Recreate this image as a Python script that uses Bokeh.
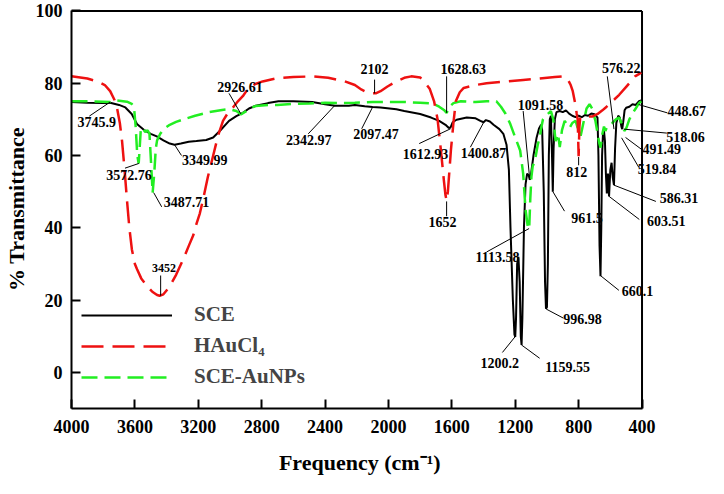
from bokeh.plotting import figure
from bokeh.models import Range1d, FixedTicker, Legend, LegendItem, ColumnDataSource
from bokeh.embed import file_html
from bokeh.resources import INLINE
from bokeh.core.properties import value

FONT = "Liberation Serif"

# ---------------- data ----------------
sce_wn = [4000, 3900, 3800, 3756, 3700, 3660, 3620, 3587, 3540, 3500, 3462, 3420, 3380, 3350,
          3310, 3260, 3212, 3150, 3106, 3060, 3006, 2960, 2919, 2880, 2837, 2760, 2694, 2600,
          2481, 2400, 2337, 2250, 2212, 2150, 2100, 2050, 1950, 1900, 1800, 1731, 1680, 1640,
          1619, 1608, 1595, 1570, 1506, 1450, 1420, 1400, 1385, 1360, 1337, 1300, 1275, 1255,
          1240, 1230, 1215, 1205, 1200, 1195, 1188, 1180, 1172, 1165, 1160, 1155, 1145, 1135,
          1125, 1115, 1108, 1100, 1085, 1065, 1050, 1037, 1030, 1020, 1012, 1006, 1000, 994,
          988, 982, 975, 968, 963, 958, 950, 940, 920, 900, 880, 860, 840, 820, 800, 780, 760,
          740, 720, 700, 690, 681, 675, 668, 662, 657, 652, 646, 640, 634, 628, 622, 615, 608,
          600, 592, 585, 577, 570, 562, 550, 540, 530, 525, 518, 510, 500, 480, 460, 440, 420, 405]
sce_t = [74.8, 74.6, 74.5, 74.6, 74.0, 73.3, 71.5, 68.7, 67.0, 66.0, 65.3, 64.2, 63.3, 63.0,
         63.3, 63.8, 64.0, 64.3, 65.0, 67.0, 69.6, 70.9, 71.8, 73.0, 73.8, 74.5, 75.0, 75.0,
         74.8, 74.2, 73.8, 73.8, 74.0, 73.6, 73.4, 73.3, 72.8, 72.3, 71.5, 70.5, 69.6, 68.5,
         67.6, 67.8, 69.2, 69.9, 70.5, 70.3, 69.6, 69.2, 69.8, 69.4, 68.5, 67.3, 66.0, 63.0,
         56.0, 40.0, 20.0, 10.5, 9.8, 15.0, 30.0, 32.0, 25.0, 10.0, 7.6, 15.0, 40.0, 52.0,
         55.0, 54.5, 53.3, 55.0, 60.0, 65.0, 67.5, 68.5, 67.0, 50.0, 25.0, 17.6, 18.0, 30.0,
         60.0, 70.0, 71.0, 60.0, 50.0, 62.0, 70.0, 72.0, 72.3, 72.0, 72.5, 71.6, 71.0, 70.6,
         71.0, 70.6, 71.2, 71.0, 71.6, 71.4, 71.0, 70.5, 60.0, 35.0, 26.6, 40.0, 60.0, 66.5,
         66.8, 64.0, 55.0, 49.5, 55.0, 48.7, 56.0, 58.0, 54.0, 51.8, 62.0, 69.0, 71.0, 70.5,
         68.0, 67.3, 69.5, 72.5, 73.2, 73.5, 74.2, 74.0, 75.0, 75.2]

hau_wn = [4000, 3900, 3837, 3790, 3756, 3730, 3712, 3695, 3681, 3665, 3650, 3635, 3619, 3600,
          3587, 3560, 3525, 3490, 3460, 3444, 3420, 3381, 3340, 3294, 3260, 3231, 3212, 3190,
          3169, 3140, 3106, 3075, 3044, 3010, 2981, 2950, 2919, 2900, 2881, 2840, 2794, 2700,
          2600, 2481, 2380, 2275, 2212, 2169, 2130, 2106, 2080, 2050, 2006, 1950, 1900, 1856,
          1800, 1775, 1740, 1712, 1690, 1669, 1650, 1640, 1633, 1625, 1615, 1606, 1590, 1575,
          1550, 1525, 1450, 1381, 1250, 1150, 1069, 950, 900, 870, 850, 837, 820, 812, 806,
          800, 795, 790, 775, 750, 712, 680, 650, 631, 600, 575, 544, 500, 470, 444, 420, 405]
hau_t = [81.9, 81.3, 80.5, 79.5, 77.8, 75.5, 73.0, 69.0, 64.0, 56.0, 47.7, 40.0, 34.0, 30.0,
         28.6, 26.0, 24.0, 22.3, 21.4, 21.2, 21.6, 23.7, 27.0, 31.4, 35.0, 38.0, 41.0, 44.0,
         48.0, 54.0, 60.0, 65.5, 69.6, 72.0, 73.3, 75.0, 76.4, 77.6, 78.7, 79.8, 80.5, 81.4,
         81.7, 81.9, 81.5, 80.5, 79.5, 78.2, 77.4, 77.2, 77.2, 77.8, 79.1, 80.5, 81.5, 81.9,
         81.6, 80.5, 78.5, 75.0, 70.0, 61.4, 53.0, 49.0, 47.5, 50.0, 56.0, 61.4, 69.0, 75.0,
         77.5, 78.7, 79.5, 80.0, 80.5, 80.9, 81.2, 81.7, 81.9, 81.2, 79.5, 77.8, 74.0, 71.5,
         70.0, 59.8, 68.0, 70.5, 70.5, 70.8, 70.8, 71.5, 72.5, 73.2, 74.5, 75.5, 76.8, 79.0,
         80.5, 81.9, 82.5, 83.0]

np_wn = [4000, 3900, 3800, 3756, 3712, 3650, 3620, 3606, 3595, 3585, 3576, 3570, 3562, 3550,
         3535, 3520, 3508, 3498, 3488, 3478, 3468, 3460, 3440, 3419, 3380, 3340, 3294, 3220,
         3131, 3050, 3006, 2960, 2931, 2900, 2860, 2837, 2760, 2700, 2600, 2500, 2400, 2300,
         2212, 2100, 2000, 1900, 1800, 1720, 1680, 1650, 1633, 1615, 1590, 1544, 1450, 1380,
         1319, 1290, 1260, 1231, 1200, 1169, 1150, 1135, 1120, 1112, 1105, 1098, 1090, 1080,
         1070, 1058, 1045, 1037, 1025, 1010, 995, 975, 960, 945, 930, 919, 905, 888, 872, 856,
         840, 819, 805, 787, 770, 750, 731, 715, 694, 680, 670, 662, 650, 640, 631, 620, 600,
         587, 565, 544, 530, 512, 500, 494, 480, 462, 440, 419, 405]
np_t = [75.0, 75.0, 74.9, 74.8, 75.2, 74.9, 74.3, 73.5, 68.0, 60.0, 57.8, 62.0, 67.7, 67.5,
        66.5, 67.0, 66.0, 58.0, 49.7, 55.0, 62.0, 64.2, 66.0, 67.3, 68.5, 69.3, 70.0, 71.0,
        72.0, 72.6, 72.8, 72.3, 71.4, 72.2, 73.3, 73.7, 74.0, 74.0, 74.3, 74.4, 74.6, 74.5,
        74.6, 74.8, 74.8, 74.8, 74.6, 74.4, 73.5, 72.6, 71.8, 73.5, 74.5, 75.0, 74.8, 75.0,
        75.0, 73.5, 71.5, 68.7, 65.0, 61.4, 55.0, 45.0, 40.0, 39.7, 48.0, 54.0, 57.0, 58.0,
        60.0, 63.0, 65.0, 67.5, 70.0, 71.0, 71.5, 72.3, 70.0, 64.0, 66.0, 62.3, 67.0, 69.6,
        68.5, 67.7, 69.0, 69.6, 67.5, 65.5, 69.0, 73.0, 74.2, 73.0, 69.6, 66.0, 63.5, 62.2,
        66.0, 68.0, 66.8, 68.0, 68.5, 69.0, 70.0, 70.5, 69.0, 66.8, 67.5, 68.2, 70.0, 71.5,
        73.0, 74.5, 75.0]

x_ticks = [4000, 3600, 3200, 2800, 2400, 2000, 1600, 1200, 800, 400]
y_ticks = [0, 20, 40, 60, 80, 100]
y_min = -10

# peak labels: text, label x, label y, leader start x, y, leader end x, y
peaks = [
    ("3745.9", 3840.6, 69.4, 3887.5, 70.9, 3756, 74.8),
    ("3572.76", 3637.5, 54.7, 3662.5, 56.5, 3575, 57.8),
    ("3487.71", 3275, 47.1, 3431, 45.8, 3481, 49.7),
    ("3349.99", 3159, 58.8, 3306, 60.0, 3350, 63.0),
    ("2926.61", 2937.5, 78.9, 3006, 77.2, 2931, 71.5),
    ("2342.97", 2503, 64.4, 2506, 66.0, 2337.5, 73.9),
    ("2097.47", 2078, 65.9, 2169, 67.4, 2100, 73.4),
    ("2102", 2087.5, 84.0, 2087.5, 81.0, 2087.5, 77.2),
    ("1628.63", 1528, 83.8, 1633, 81.9, 1633, 71.8),
    ("1612.93", 1766, 60.4, 1806, 63.3, 1608, 67.4),
    ("1400.87", 1400, 60.8, 1483, 62.3, 1400, 69.1),
    ("1652", 1659, 41.6, 1633, 43.2, 1633, 47.3),
    ("1091.58", 1041, 74.1, 1150, 72.3, 1108, 53.2),
    ("1113.58", 1312.5, 31.8, 1381, 33.3, 1112.5, 39.8),
    ("1200.2", 1297, 2.5, 1281, 5.5, 1202, 9.8),
    ("1159.55", 869, 1.5, 1046, 3.9, 1161, 7.6),
    ("996.98", 775, 14.9, 896, 15.0, 1004, 17.5),
    ("961.5", 747, 42.7, 889, 44.6, 962.5, 50.0),
    ("812", 812.5, 55.4, 800, 57.3, 800, 59.6),
    ("660.1", 428, 22.6, 546, 22.7, 660, 26.7),
    ("603.51", 247, 41.9, 417, 42.3, 608, 48.7),
    ("586.31", 166, 48.3, 312.5, 47.3, 577, 51.8),
    ("519.84", 306, 56.3, 420, 56.7, 529, 64.9),
    ("491.49", 275, 61.8, 400, 61.6, 504, 65.0),
    ("518.06", 125, 65.2, 243.5, 66.2, 515, 67.3),
    ("448.67", 118, 72.3, 240, 71.8, 421, 74.1),
    ("576.22", 531, 84.3, 619, 81.9, 577, 67.3),
]
small_peaks = [("3452", 3416, 28.8, 3437.5, 26.8, 3437.5, 21.2)]

x_title = "Frequency (cm\u207b\u00b9)"

# ---------------- figure ----------------
p = figure(width=708, height=478, output_backend="svg", toolbar_location=None,
           x_range=Range1d(4000, -19.5), y_range=Range1d(y_min, 100.4),
           min_border_left=66, min_border_right=0, min_border_top=9, min_border_bottom=70)
p.outline_line_color = None
p.grid.visible = False
p.background_fill_color = "white"

for ax in (p.xaxis[0], p.yaxis[0]):
    ax.axis_line_width = 2
    ax.major_tick_line_width = 2
    ax.major_tick_in = 9
    ax.major_tick_out = 0
    ax.minor_tick_line_color = None
    ax.major_label_text_font = FONT
    ax.major_label_text_font_style = "bold"
    ax.major_label_text_font_size = "18px"
    ax.major_label_text_color = "black"
    ax.axis_label_text_font = FONT
    ax.axis_label_text_font_style = "bold"
    ax.axis_label_text_font_size = "22px"
    ax.axis_label_text_color = "black"

p.xaxis.ticker = FixedTicker(ticks=x_ticks)
p.yaxis.ticker = FixedTicker(ticks=y_ticks)
p.xaxis.bounds = (x_ticks[-1], x_ticks[0])
p.yaxis.bounds = (y_min, y_ticks[-1])
p.yaxis.axis_label = "% Transmittance"
# trailing no-break spaces shift the centred title under the 4000-400 span
p.xaxis.axis_label = x_title + "\u00a0" * 11
p.xaxis.major_label_standoff = 11
p.xaxis.axis_label_standoff = 14
p.yaxis.major_label_standoff = 9
p.yaxis.axis_label_standoff = 4

# frame top and right borders
p.segment(x0=[x_ticks[0], x_ticks[-1]], y0=[y_ticks[-1], y_min],
          x1=[x_ticks[-1], x_ticks[-1]], y1=[y_ticks[-1], y_ticks[-1]],
          line_color="black", line_width=2)

r_sce = p.line(sce_wn, sce_t, line_color="black", line_width=2)
r_np = p.line(np_wn, np_t, line_color="#22ee22", line_width=2.5, line_dash="16 7")
r_hau = p.line(hau_wn, hau_t, line_color="#ee1111", line_width=2.5, line_dash="22 9")

def add_labels(items, size):
    src = ColumnDataSource(dict(
        text=[a[0] for a in items], x=[a[1] for a in items], y=[a[2] for a in items],
        x0=[a[3] for a in items], y0=[a[4] for a in items],
        x1=[a[5] for a in items], y1=[a[6] for a in items]))
    p.segment(x0="x0", y0="y0", x1="x1", y1="y1", source=src, line_color="black", line_width=1)
    p.text(x="x", y="y", text="text", source=src, text_font=value(FONT),
           text_font_style="bold", text_font_size=size, text_align="center",
           text_baseline="middle", text_color="black")

add_labels(peaks, "14px")
add_labels(small_peaks, "12px")

legend = Legend(items=[LegendItem(label="SCE", renderers=[r_sce]),
                       LegendItem(label="HAuCl\u2084", renderers=[r_hau]),
                       LegendItem(label="SCE-AuNPs", renderers=[r_np])],
                location=(10, 19))
legend.label_text_font = FONT
legend.label_text_font_style = "bold"
legend.label_text_font_size = "21px"
legend.glyph_width = 91
legend.glyph_height = 20
legend.label_standoff = 22
legend.spacing = 6
legend.padding = 0
legend.margin = 0
legend.border_line_color = None
legend.background_fill_alpha = 0
p.add_layout(legend)

open("out.html", "w").write(file_html(p, INLINE))
